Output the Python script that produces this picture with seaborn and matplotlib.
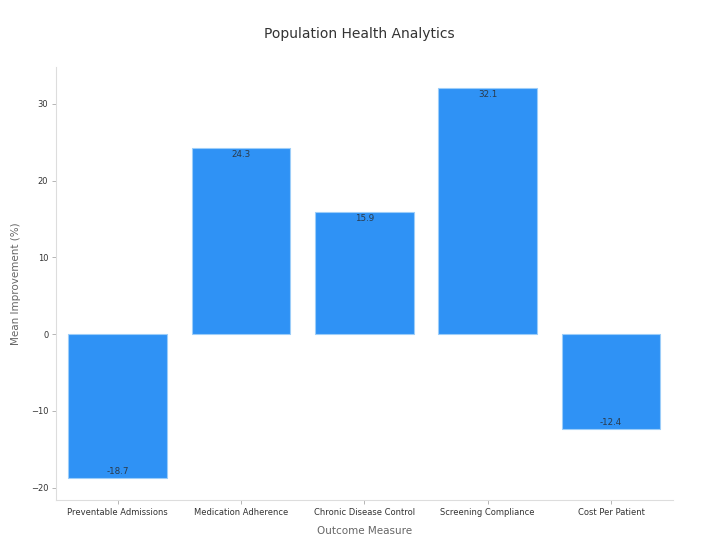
import matplotlib
matplotlib.use("Agg")
import matplotlib.pyplot as plt
import seaborn as sns
import pandas as pd

categories = ["Preventable Admissions", "Medication Adherence", "Chronic Disease Control",
              "Screening Compliance", "Cost Per Patient"]
values = [-18.7, 24.3, 15.9, 32.1, -12.4]
yticks = [-20, -10, 0, 10, 20, 30]

df = pd.DataFrame({"Outcome Measure": categories, "Mean Improvement (%)": values})

sns.set_theme(style="white")
plt.rcParams['font.family'] = ['DejaVu Sans']

fig = plt.figure(figsize=(7.18, 5.53), dpi=100)
ax = fig.add_axes([0.078, 0.096, 0.859, 0.783])

sns.barplot(data=df, x="Outcome Measure", y="Mean Improvement (%)", ax=ax,
            color="#2f92f5", saturation=1, width=0.8,
            edgecolor="#9ccdf9", linewidth=0.8)

for cont in ax.containers:
    ax.bar_label(cont, labels=[f"{v:.1f}" for v in values], padding=-8,
                 fontsize=6.3, color="#2b3a4a")

ax.set_ylim(-21.6, 34.8)
ax.set_xlim(-0.5, 4.5)
ax.set_yticks(yticks)
ax.set_yticklabels([f"{t}" if t >= 0 else f"\u2212{abs(t)}" for t in yticks])

for s in ["top", "right"]:
    ax.spines[s].set_visible(False)
for s in ["left", "bottom"]:
    ax.spines[s].set_color("#dddddd")
    ax.spines[s].set_linewidth(0.8)

ax.tick_params(axis="both", which="both", length=3, width=0.6, color="#aaaaaa",
               labelsize=6, labelcolor="#333333", pad=2.5)
ax.tick_params(axis="x", bottom=True)
ax.tick_params(axis="y", left=True)

ax.set_xlabel("Outcome Measure", fontsize=7.5, color="#666666", labelpad=7)
ax.set_ylabel("Mean Improvement (%)", fontsize=7.5, color="#666666", labelpad=7)
fig.suptitle("Population Health Analytics", fontsize=10, color="#333333", y=0.952)

fig.savefig("out.png", dpi=100, facecolor="white")
